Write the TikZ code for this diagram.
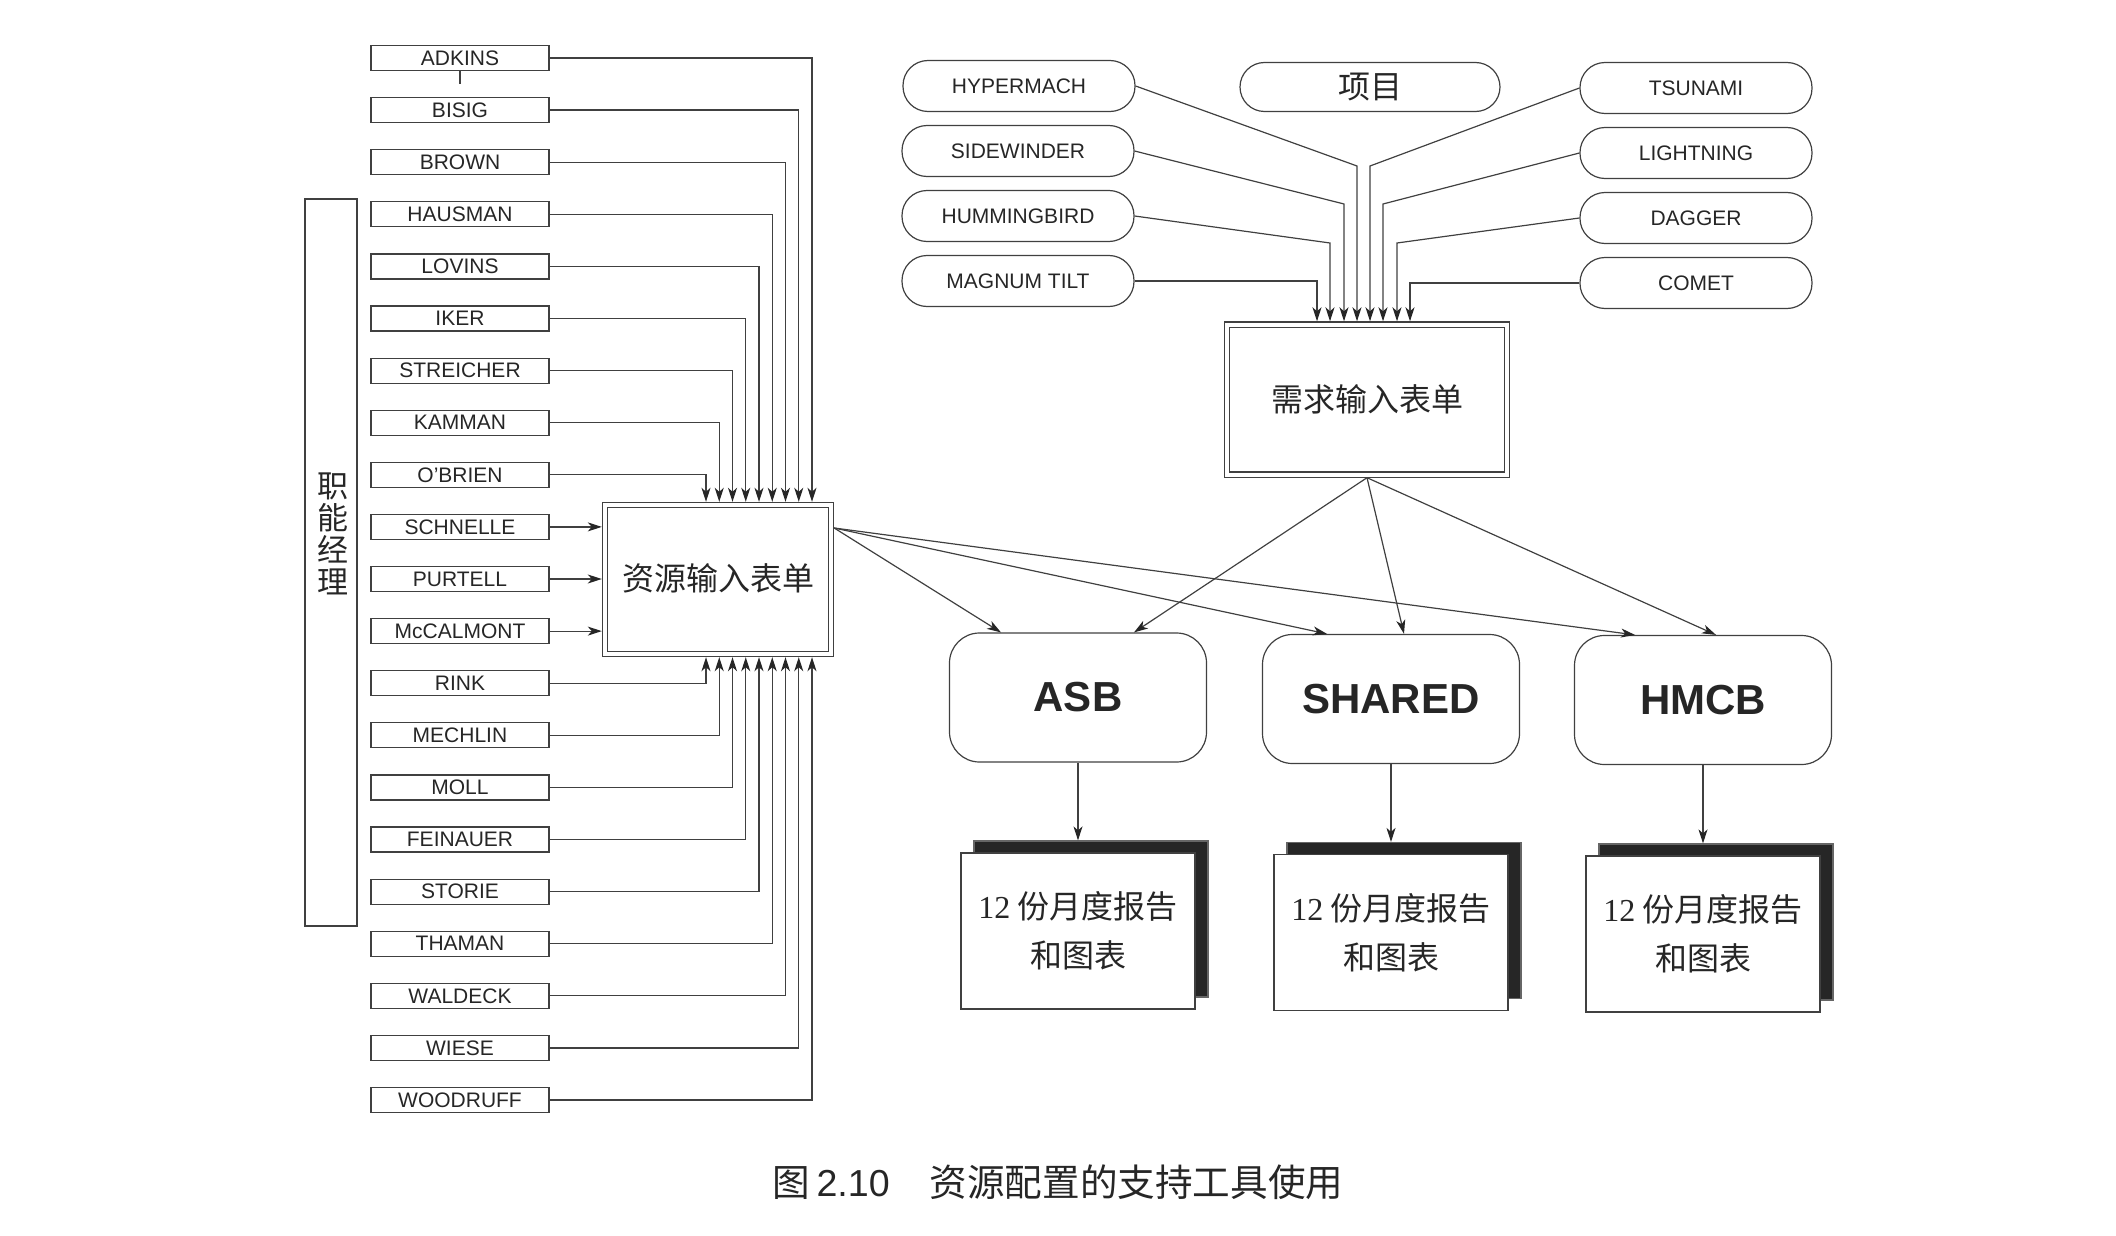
\documentclass[tikz,border=0pt]{standalone}
\usepackage{fontspec}
\setmainfont{Liberation Sans}
\newfontfamily\cjk{Noto Sans CJK SC}
\newfontfamily\tnr{Liberation Serif}
\usetikzlibrary{arrows.meta,shadows,calc}
\begin{document}
\begin{tikzpicture}[x=0.5pt,y=-0.5pt,
  line width=0.6pt,
  every node/.style={text=black!85},
  ln/.style={draw=black!75, line width=0.6pt},
  arr/.style={ln, -{Stealth[length=7pt,width=4.5pt,inset=2pt,black!85]}},
  namebox/.style={draw=black!75, minimum width=89pt, minimum height=12.5pt, inner sep=0pt, font=\fontsize{10.5}{12}\selectfont},
  oval/.style={draw=black!75, rounded corners=12.5pt, minimum width=116pt, minimum height=25.5pt, inner sep=0pt, font=\fontsize{10.5}{12}\selectfont},
  form/.style={draw=black!75, double, double distance=2pt, inner sep=0pt, outer sep=1.6pt, font=\cjk\fontsize{16}{20}\selectfont},
  grp/.style={draw=black!75, rounded corners=15pt, minimum width=128.5pt, minimum height=64.5pt, inner sep=0pt, font=\bfseries\fontsize{21}{24}\selectfont},
  report/.style={draw=black!75, fill=white, minimum width=117pt, minimum height=78pt, inner sep=0pt, align=center, font=\cjk\fontsize{16}{24.5}\selectfont, general shadow={fill=black!85, draw=black!60, shadow xshift=6.5pt, shadow yshift=6pt}},
]
\useasboundingbox (0,0) rectangle (2116,1236);

% functional managers column
\node[draw=black!75, minimum width=26pt, minimum height=363.5pt, inner sep=0pt] (fm) at (331,562.5) {};
\node[font=\cjk\fontsize{15.5}{16}\selectfont, align=center, inner sep=0pt] (fmt) at (333,534) {职\\能\\经\\理};

% names
\foreach \nm [count=\i from 0] in {ADKINS,BISIG,BROWN,HAUSMAN,LOVINS,IKER,STREICHER,KAMMAN,O'BRIEN,SCHNELLE,PURTELL,McCALMONT,RINK,MECHLIN,MOLL,FEINAUER,STORIE,THAMAN,WALDECK,WIESE,WOODRUFF}
  \node[namebox] (n\i) at (460,{58+52.1*\i}) {\nm};

% resource input form
\node[form, minimum width=113pt, minimum height=74.5pt] (res) at (718,579.5) {\raisebox{2pt}{资源输入表单}};

\draw[ln] (n0.south) -- ++(0,13);

\foreach \i in {0,...,8}
  \draw[arr] (n\i.east) -| ([xshift={(812-13.25*\i-718)*0.5}]res.north);
\foreach \i in {12,...,20}
  \draw[arr] (n\i.east) -| ([xshift={(706+13.25*(\i-12)-718)*0.5}]res.south);
\foreach \i in {9,10,11}
  \draw[arr] (n\i.east) -- (n\i.east -| res.west);

% projects
\node[oval] (hyp) at (1019,86) {HYPERMACH};
\node[oval] (sid) at (1018,151) {SIDEWINDER};
\node[oval] (hum) at (1018,216) {HUMMINGBIRD};
\node[oval] (mag) at (1018,281) {MAGNUM TILT};
\node[oval, minimum width=130pt, minimum height=24.5pt, rounded corners=12.25pt, font=\cjk\fontsize{16}{20}\selectfont] (proj) at (1370,87) {项目};
\node[oval] (tsu) at (1696,88) {TSUNAMI};
\node[oval] (lig) at (1696,153) {LIGHTNING};
\node[oval] (dag) at (1696,218) {DAGGER};
\node[oval] (com) at (1696,283) {COMET};

% demand input form
\node[form, minimum width=140.25pt, minimum height=75pt] (dem) at (1367,399.5) {需求输入表单};

\draw[arr] (mag.east) -| ([xshift=-25pt]dem.north);
\draw[arr] (hum.east) -- (1330,243) -- ([xshift=-18.5pt]dem.north);
\draw[arr] (sid.east) -- (1344,204) -- ([xshift=-11.5pt]dem.north);
\draw[arr] (hyp.east) -- (1357,166) -- ([xshift=-5pt]dem.north);
\draw[arr] (tsu.west) -- (1370,166) -- ([xshift=1.5pt]dem.north);
\draw[arr] (lig.west) -- (1383,204) -- ([xshift=8pt]dem.north);
\draw[arr] (dag.west) -- (1397,243) -- ([xshift=15pt]dem.north);
\draw[arr] (com.west) -| ([xshift=21.5pt]dem.north);

% groups
\node[grp] (asb) at (1078,697.5) {ASB};
\node[grp] (sha) at (1391,699) {SHARED};
\node[grp] (hmc) at (1703,700) {HMCB};

\coordinate (rs) at ([yshift=25.75pt]res.east);
\draw[arr] (rs) -- ([xshift=-38.5pt]asb.north);
\draw[arr] (rs) -- ([xshift=-32pt]sha.north);
\draw[arr] (rs) -- ([xshift=-34pt]hmc.north);
\draw[arr] (dem.south) -- ([xshift=28pt]asb.north);
\draw[arr] (dem.south) -- ([xshift=6.5pt]sha.north);
\draw[arr] (dem.south) -- ([xshift=6.5pt]hmc.north);

% reports
\node[report] (r1) at (1078,931) {{\tnr 12} 份月度报告\\和图表};
\node[report] (r2) at (1391,932.5) {{\tnr 12} 份月度报告\\和图表};
\node[report] (r3) at (1703,934) {{\tnr 12} 份月度报告\\和图表};

\draw[arr] (asb.south) -- ([yshift=6pt]r1.north);
\draw[arr] (sha.south) -- ([yshift=6pt]r2.north);
\draw[arr] (hmc.south) -- ([yshift=6pt]r3.north);

% caption
\node[font=\cjk\fontsize{18.8}{22}\selectfont, inner sep=0pt] (cap) at (1058,1182) {图\,{\rmfamily 2.10}\hspace{20pt}资源配置的支持工具使用};
\end{tikzpicture}
\end{document}
